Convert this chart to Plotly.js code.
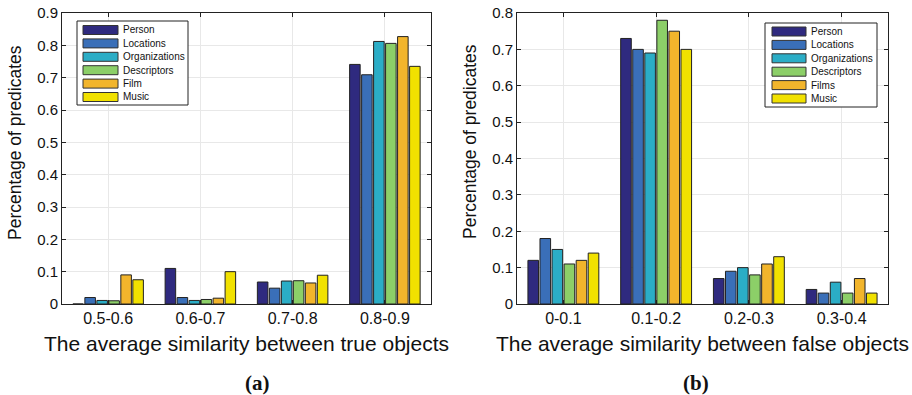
<!DOCTYPE html>
<html><head><meta charset="utf-8">
<script src="https://cdn.plot.ly/plotly-3.0.1.min.js"></script>
<style>html,body{margin:0;padding:0;background:#fff}#c{width:912px;height:395px}</style>
</head><body><div id="c"></div>
<script>
const catsA = ["0.5-0.6","0.6-0.7","0.7-0.8","0.8-0.9"];
const catsB = ["0-0.1","0.1-0.2","0.2-0.3","0.3-0.4"];
const namesA = ["Person","Locations","Organizations","Descriptors","Film","Music"];
const namesB = ["Person","Locations","Organizations","Descriptors","Films","Music"];
const colors = ["#2f2a7f","#3a6fb8","#2badc6","#8ccf68","#f2b52c","#f1e100"];

const personA = [0, 0.11, 0.068, 0.741];
const locationsA = [0.02, 0.02, 0.049, 0.709];
const organizationsA = [0.011, 0.011, 0.071, 0.812];
const descriptorsA = [0.01, 0.014, 0.072, 0.806];
const filmA = [0.09, 0.018, 0.065, 0.827];
const musicA = [0.075, 0.1, 0.089, 0.735];

const personB = [0.12, 0.73, 0.07, 0.04];
const locationsB = [0.18, 0.70, 0.09, 0.03];
const organizationsB = [0.15, 0.69, 0.10, 0.06];
const descriptorsB = [0.11, 0.78, 0.08, 0.03];
const filmsB = [0.12, 0.75, 0.11, 0.07];
const musicB = [0.14, 0.70, 0.13, 0.03];

const seriesA = [personA, locationsA, organizationsA, descriptorsA, filmA, musicA];
const seriesB = [personB, locationsB, organizationsB, descriptorsB, filmsB, musicB];

const W = 912, H = 395;
const traces = [];
seriesA.forEach((v,i)=>traces.push({type:'bar', x:catsA, y:v, name:namesA[i], xaxis:'x', yaxis:'y',
  marker:{color:colors[i], line:{color:'#222', width:1}}}));
seriesB.forEach((v,i)=>traces.push({type:'bar', x:catsB, y:v, name:namesB[i], xaxis:'x2', yaxis:'y2',
  marker:{color:colors[i], line:{color:'#222', width:1}}}));

const F = 'Liberation Sans, Arial, sans-serif';
const axX = (dom, title) => ({domain:dom, type:'category', showline:true, linecolor:'#222', linewidth:1, mirror:'allticks',
  ticks:'inside', ticklen:4, tickcolor:'#222', showgrid:true, gridcolor:'#e8e8e8',
  tickfont:{family:F, size:16, color:'#111'}, title:{text:title, font:{family:F, size:21, color:'#111'}, standoff:10}, fixedrange:true});
const axY = (anchor, max) => ({domain:[1-304/H, 1-13/H], anchor:anchor, range:[0,max], dtick:0.1, showline:true, linecolor:'#222', linewidth:1,
  mirror:'allticks', ticks:'inside', ticklen:4, tickcolor:'#222', showgrid:true, gridcolor:'#e8e8e8', zeroline:false,
  tickfont:{family:F, size:15, color:'#111'}});

// manual legends (MATLAB-style wide swatches)
const shapes = [], annotations = [];
function addLegend(names, box, swX, txtX, y0, step) {
  shapes.push({type:'rect', xref:'paper', yref:'paper', x0:box[0]/W, x1:box[1]/W, y0:1-box[3]/H, y1:1-box[2]/H,
    line:{color:'#222', width:1}, fillcolor:'#fff', layer:'above'});
  names.forEach((n,i)=>{
    const yc = y0 + i*step;
    shapes.push({type:'rect', xref:'paper', yref:'paper', x0:swX[0]/W, x1:swX[1]/W, y0:1-(yc+4.5)/H, y1:1-(yc-4.5)/H,
      line:{color:'#333', width:1}, fillcolor:colors[i], layer:'above'});
    annotations.push({text:n, xref:'paper', yref:'paper', x:txtX/W, y:1-yc/H, xanchor:'left', yanchor:'middle',
      showarrow:false, font:{family:F, size:10, color:'#111'}});
  });
}
addLegend(namesA, [77,188,21,105], [83,118], 121, 30, 13.4);
addLegend(namesB, [765,877,23,107], [772,806], 808.5, 31.5, 13.4);

const serif = {family:'Liberation Serif, Times New Roman, serif', size:21, color:'#111'};
annotations.push({text:'<b>(a)</b>', x:243/W, y:1-383/H, xref:'paper', yref:'paper', yanchor:'middle', showarrow:false, font:serif});
annotations.push({text:'<b>(b)</b>', x:711/W, y:1-383/H, xref:'paper', yref:'paper', yanchor:'middle', showarrow:false, font:serif});
annotations.push({text:'Percentage of predicates', x:15/W, y:1-143/H, xref:'paper', yref:'paper', textangle:-90,
  xanchor:'center', yanchor:'middle', showarrow:false, font:{family:F, size:17.5, color:'#111'}});
annotations.push({text:'Percentage of predicates', x:470/W, y:1-142/H, xref:'paper', yref:'paper', textangle:-90,
  xanchor:'center', yanchor:'middle', showarrow:false, font:{family:F, size:17.5, color:'#111'}});

const layout = {
  width:W, height:H, margin:{l:0,r:0,t:0,b:0}, paper_bgcolor:'#fff', plot_bgcolor:'#fff',
  barmode:'group', bargap:0.22, bargroupgap:0.12, showlegend:false,
  xaxis: Object.assign(axX([62/W, 431/W], 'The average similarity between true objects'), {anchor:'y'}),
  yaxis: axY('x', 0.9),
  xaxis2: Object.assign(axX([517/W, 888/W], 'The average similarity between false objects'), {anchor:'y2'}),
  yaxis2: axY('x2', 0.8),
  shapes: shapes, annotations: annotations
};
Plotly.newPlot('c', traces, layout, {staticPlot:true});
</script></body></html>
